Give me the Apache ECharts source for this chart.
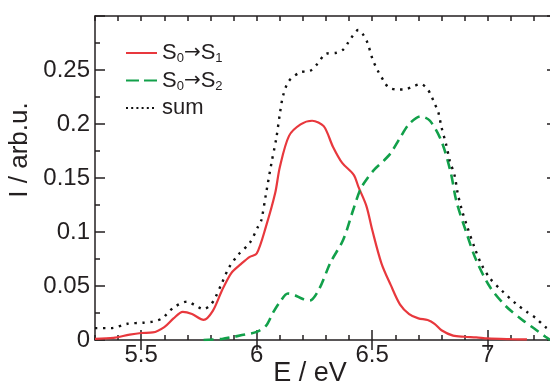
<!DOCTYPE html>
<html>
<head>
<meta charset="utf-8">
<title>Absorption spectrum</title>
<script src="https://cdn.jsdelivr.net/npm/echarts@6/dist/echarts.min.js"></script>
<style>
  html, body { margin: 0; padding: 0; background: #fff; }
  #chart { width: 550px; height: 386px; }
</style>
</head>
<body>
<div id="chart"></div>
<script>
// S0 -> S1 band
const energyS1 = [5.30, 5.38, 5.45, 5.50, 5.55, 5.60, 5.64, 5.68, 5.72, 5.77, 5.81, 5.85, 5.89, 5.93, 5.97,
  6.00, 6.04, 6.08, 6.10, 6.14, 6.19, 6.24, 6.29, 6.33, 6.37, 6.42, 6.44, 6.475, 6.50, 6.54, 6.58, 6.62,
  6.66, 6.70, 6.74, 6.77, 6.80, 6.85, 6.90, 6.95, 7.00, 7.10, 7.17];
const intensityS1 = [0.001, 0.002, 0.005, 0.0065, 0.007, 0.012, 0.020, 0.026, 0.024, 0.0186, 0.027, 0.046, 0.062, 0.070, 0.077,
  0.080, 0.105, 0.136, 0.160, 0.189, 0.1996, 0.203, 0.198, 0.179, 0.164, 0.153, 0.142, 0.124, 0.102, 0.071, 0.051, 0.033,
  0.024, 0.020, 0.0185, 0.015, 0.009, 0.004, 0.003, 0.0025, 0.0015, 0.0008, 0.0005];

// S0 -> S2 band
const energyS2 = [5.77, 5.85, 5.90, 5.95, 6.00, 6.04, 6.07, 6.10, 6.135, 6.16, 6.20, 6.23, 6.27, 6.32, 6.375,
  6.42, 6.45, 6.48, 6.51, 6.55, 6.58, 6.62, 6.66, 6.71, 6.75, 6.80, 6.84, 6.865, 6.91, 6.95, 7.01, 7.08,
  7.15, 7.21, 7.25, 7.27];
const intensityS2 = [0.0, 0.001, 0.003, 0.005, 0.0075, 0.013, 0.025, 0.035, 0.043, 0.042, 0.038, 0.0365, 0.047, 0.072, 0.093,
  0.122, 0.140, 0.150, 0.158, 0.166, 0.173, 0.187, 0.200, 0.207, 0.203, 0.184, 0.155, 0.128, 0.098, 0.074, 0.049, 0.031,
  0.0186, 0.0093, 0.003, 0.0];

// total spectrum
const energySum = [5.30, 5.37, 5.44, 5.51, 5.55, 5.59, 5.64, 5.70, 5.73, 5.77, 5.80, 5.82, 5.85, 5.88, 5.92, 5.97,
  6.006, 6.02, 6.04, 6.064, 6.085, 6.10, 6.114, 6.14, 6.19, 6.23, 6.26, 6.30, 6.345, 6.375, 6.395, 6.44, 6.46,
  6.48, 6.50, 6.525, 6.55, 6.57, 6.605, 6.64, 6.68, 6.71, 6.74, 6.756, 6.77, 6.786, 6.80, 6.82, 6.836, 6.857,
  6.87, 6.886, 6.908, 6.944, 6.973, 7.01, 7.06, 7.12, 7.17, 7.21, 7.25, 7.28];
const intensitySum = [0.011, 0.011, 0.015, 0.016, 0.017, 0.020, 0.030, 0.0356, 0.0325, 0.0285, 0.0325, 0.039, 0.053, 0.067, 0.079, 0.090,
  0.105, 0.111, 0.135, 0.164, 0.187, 0.209, 0.226, 0.240, 0.248, 0.249, 0.255, 0.265, 0.266, 0.269, 0.275, 0.287, 0.283,
  0.275, 0.261, 0.249, 0.240, 0.234, 0.232, 0.232, 0.235, 0.237, 0.232, 0.226, 0.219, 0.211, 0.197, 0.181, 0.166, 0.152,
  0.136, 0.122, 0.107, 0.085, 0.070, 0.057, 0.046, 0.034, 0.026, 0.020, 0.012, 0.008];

// axes
const xRange = [5.3, 7.3];
const xMajorTicks = [5.5, 6, 6.5, 7];
const yRange = [0, 0.3];

const seriesNames = ['S0→S1', 'S0→S2', 'sum'];

const zip = (xs, ys) => xs.map((x, i) => [x, ys[i]]);

const ink = '#231f20';
const red = '#e8383d';
const green = '#12a04a';
const frameLine = { color: ink, width: 1.5 };

function minorXAxis(position, withName) {
  const ax = {
    type: 'value', position: position, min: xRange[0], max: xRange[1], interval: 0.1,
    axisLine: { show: true, onZero: false, lineStyle: frameLine },
    axisTick: { show: true, inside: true, length: 5, lineStyle: frameLine },
    axisLabel: { show: false },
    splitLine: { show: false }
  };
  if (withName) {
    Object.assign(ax, {
      name: 'E / eV', nameLocation: 'middle', nameGap: 20,
      nameTextStyle: { fontFamily: 'Liberation Sans', fontSize: 27, color: ink, padding: [0, 32, 0, 0] }
    });
  }
  return ax;
}

function majorXAxis(position, withLabels) {
  return {
    type: 'value', position: position, min: xRange[0], max: xRange[1],
    axisLine: { show: false },
    axisTick: { show: true, inside: true, length: 10, customValues: xMajorTicks, lineStyle: frameLine },
    axisLabel: withLabels ? {
      show: true, customValues: xMajorTicks, margin: 3,
      fontFamily: 'Liberation Sans', fontSize: 24, color: ink
    } : { show: false },
    splitLine: { show: false }
  };
}

function yAxisAt(position, withLabels) {
  const ax = {
    type: 'value', position: position, min: yRange[0], max: yRange[1], interval: 0.05,
    axisLine: { show: true, onZero: false, lineStyle: frameLine },
    axisTick: { show: true, inside: true, length: 10, lineStyle: frameLine },
    minorTick: { show: true, splitNumber: 2, length: 5, lineStyle: frameLine },
    axisLabel: withLabels ? {
      show: true, margin: 5, showMaxLabel: false,
      fontFamily: 'Liberation Sans', fontSize: 24, color: ink
    } : { show: false },
    splitLine: { show: false },
    minorSplitLine: { show: false }
  };
  if (withLabels) {
    Object.assign(ax, {
      name: 'I / arb.u.', nameLocation: 'middle', nameGap: 47, nameRotate: 90,
      nameTextStyle: { fontFamily: 'Liberation Sans', fontSize: 26, color: ink, padding: [0, 0, 0, 56] }
    });
  }
  return ax;
}

// one legend block per row so each row sits at its own height
function legendRow(name, top, dash) {
  const row = {
    data: [name],
    orient: 'vertical',
    left: 125, top: top, padding: 0,
    itemWidth: 31, itemHeight: 10,
    itemStyle: { opacity: 0, borderWidth: 0 },
    textStyle: {
      color: ink,
      rich: {
        a: { fontFamily: 'Liberation Sans', fontSize: 22, lineHeight: 24, color: ink },
        r: { fontFamily: 'DejaVu Sans', fontSize: 20, lineHeight: 24, color: ink },
        b: { fontFamily: 'Liberation Sans', fontSize: 13, lineHeight: 13, verticalAlign: 'bottom', color: ink }
      }
    },
    formatter: function (n) {
      if (n === 'sum') return '{a|sum}';
      return n.replace(/S(\d)→S(\d)/, '{a|S}{b|$1}{r|→}{a|S}{b|$2}');
    }
  };
  if (dash) row.lineStyle = { type: dash };
  return row;
}

const chart = echarts.init(document.getElementById('chart'), null, { renderer: 'canvas' });

chart.setOption({
  animation: false,
  backgroundColor: '#ffffff',
  grid: { left: 95, right: -7, top: 16, bottom: 46, containLabel: false, outerBoundsMode: 'none' },
  legend: [
    legendRow(seriesNames[0], 42, null),
    legendRow(seriesNames[1], 69.5, [13, 5]),
    legendRow(seriesNames[2], 97, [2, 3.2])
  ],
  xAxis: [
    minorXAxis('bottom', true),
    majorXAxis('bottom', true),
    minorXAxis('top', false),
    majorXAxis('top', false)
  ],
  yAxis: [
    yAxisAt('left', true),
    yAxisAt('right', false)
  ],
  series: [
    {
      name: seriesNames[0], type: 'line', xAxisIndex: 0, yAxisIndex: 0,
      data: zip(energyS1, intensityS1),
      symbol: 'none', smooth: 0.3,
      lineStyle: { color: red, width: 2.2 },
      itemStyle: { color: red }
    },
    {
      name: seriesNames[1], type: 'line', xAxisIndex: 0, yAxisIndex: 0,
      data: zip(energyS2, intensityS2),
      symbol: 'none', smooth: 0.3,
      lineStyle: { color: green, width: 2.6, type: [10, 6] },
      itemStyle: { color: green }
    },
    {
      name: seriesNames[2], type: 'line', xAxisIndex: 0, yAxisIndex: 0,
      data: zip(energySum, intensitySum),
      symbol: 'none', smooth: 0.3,
      lineStyle: { color: '#111111', width: 2.4, type: [2.4, 5.6] },
      itemStyle: { color: '#111111' }
    }
  ]
});
</script>
</body>
</html>
